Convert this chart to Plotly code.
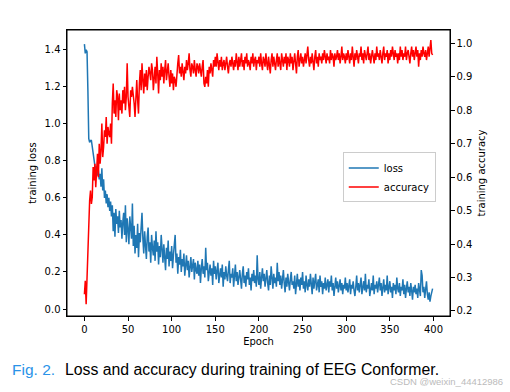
import plotly.graph_objects as go

epochs = list(range(400))

loss = [
    1.43, 1.38, 1.40, 1.39, 1.18, 0.92, 0.90, 0.91, 0.91, 0.88,
    0.85, 0.80, 0.79, 0.74, 0.77, 0.72, 0.75, 0.70, 0.73, 0.66,
    0.76, 0.64, 0.70, 0.60, 0.64, 0.57, 0.62, 0.55, 0.60, 0.53,
    0.58, 0.50, 0.56, 0.42, 0.52, 0.39, 0.54, 0.46, 0.50, 0.41,
    0.53, 0.44, 0.48, 0.38, 0.47, 0.52, 0.40, 0.56, 0.36, 0.49,
    0.43, 0.35, 0.50, 0.44, 0.38, 0.57, 0.34, 0.45, 0.30, 0.40,
    0.33, 0.46, 0.28, 0.41, 0.36, 0.44, 0.52, 0.38, 0.30, 0.42,
    0.35, 0.27, 0.39, 0.44, 0.31, 0.36, 0.25, 0.40, 0.33, 0.29,
    0.37, 0.26, 0.42, 0.31, 0.36, 0.24, 0.34, 0.28, 0.40, 0.30,
    0.25, 0.35, 0.29, 0.21, 0.33, 0.27, 0.37, 0.23, 0.31, 0.26,
    0.34, 0.22, 0.29, 0.36, 0.40, 0.25, 0.30, 0.19, 0.28, 0.24,
    0.32, 0.20, 0.27, 0.23, 0.30, 0.18, 0.25, 0.29, 0.21, 0.26,
    0.17, 0.24, 0.28, 0.20, 0.23, 0.27, 0.16, 0.25, 0.21, 0.19,
    0.26, 0.18, 0.24, 0.14, 0.22, 0.27, 0.19, 0.23, 0.17, 0.33,
    0.21, 0.25, 0.15, 0.20, 0.24, 0.18, 0.22, 0.13, 0.26, 0.19,
    0.23, 0.16, 0.21, 0.25, 0.14, 0.19, 0.22, 0.17, 0.24, 0.12,
    0.20, 0.16, 0.23, 0.18, 0.15, 0.21, 0.26, 0.14, 0.19, 0.17,
    0.22, 0.12, 0.18, 0.24, 0.15, 0.20, 0.13, 0.17, 0.21, 0.16,
    0.11, 0.19, 0.23, 0.14, 0.18, 0.12, 0.20, 0.16, 0.22, 0.13,
    0.17, 0.10, 0.19, 0.15, 0.21, 0.14, 0.18, 0.12, 0.29, 0.16,
    0.13, 0.20, 0.11, 0.17, 0.22, 0.15, 0.19, 0.12, 0.16, 0.21,
    0.14, 0.10, 0.18, 0.13, 0.23, 0.16, 0.11, 0.19, 0.14, 0.17,
    0.12, 0.25, 0.15, 0.20, 0.13, 0.18, 0.11, 0.16, 0.21, 0.14,
    0.09, 0.17, 0.12, 0.19, 0.14, 0.10, 0.16, 0.20, 0.13, 0.15,
    0.11, 0.18, 0.08, 0.14, 0.19, 0.12, 0.16, 0.10, 0.17, 0.13,
    0.20, 0.11, 0.15, 0.09, 0.18, 0.13, 0.10, 0.16, 0.12, 0.19,
    0.14, 0.08, 0.17, 0.11, 0.15, 0.19, 0.10, 0.13, 0.16, 0.09,
    0.18, 0.12, 0.15, 0.08, 0.14, 0.11, 0.17, 0.10, 0.13, 0.16,
    0.09, 0.15, 0.12, 0.18, 0.10, 0.14, 0.07, 0.13, 0.17, 0.11,
    0.15, 0.09, 0.12, 0.16, 0.10, 0.14, 0.08, 0.13, 0.11, 0.17,
    0.10, 0.14, 0.09, 0.12, 0.16, 0.08, 0.13, 0.11, 0.15, 0.10,
    0.07, 0.12, 0.18, 0.10, 0.14, 0.09, 0.13, 0.17, 0.08, 0.12,
    0.15, 0.10, 0.19, 0.09, 0.13, 0.11, 0.16, 0.07, 0.12, 0.14,
    0.10, 0.18, 0.08, 0.13, 0.11, 0.15, 0.09, 0.12, 0.17, 0.10,
    0.14, 0.07, 0.12, 0.16, 0.09, 0.13, 0.10, 0.18, 0.08, 0.11,
    0.15, 0.09, 0.12, 0.06, 0.14, 0.10, 0.13, 0.08, 0.17, 0.11,
    0.09, 0.14, 0.07, 0.12, 0.10, 0.16, 0.08, 0.13, 0.06, 0.11,
    0.15, 0.09, 0.12, 0.07, 0.14, 0.10, 0.05, 0.12, 0.09, 0.13,
    0.08, 0.11, 0.06, 0.14, 0.10, 0.07, 0.21, 0.18, 0.09, 0.12,
    0.06, 0.10, 0.15, 0.08, 0.05, 0.09, 0.04, 0.07, 0.10, 0.11,
]

accuracy = [
    0.25, 0.29, 0.22, 0.30, 0.40, 0.48, 0.53, 0.56, 0.52, 0.54,
    0.63, 0.59, 0.64, 0.57, 0.61, 0.67, 0.60, 0.70, 0.64, 0.68,
    0.76, 0.66, 0.69, 0.74, 0.72, 0.78, 0.70, 0.75, 0.73, 0.72,
    0.76, 0.70, 0.82, 0.88, 0.79, 0.83, 0.78, 0.86, 0.84, 0.77,
    0.85, 0.80, 0.83, 0.79, 0.86, 0.82, 0.87, 0.80, 0.84, 0.94,
    0.84, 0.81, 0.78, 0.86, 0.84, 0.87, 0.85, 0.82, 0.78, 0.84,
    0.89, 0.83, 0.79, 0.88, 0.92, 0.86, 0.94, 0.89, 0.85, 0.91,
    0.87, 0.92, 0.86, 0.90, 0.93, 0.91, 0.89, 0.94, 0.92, 0.86,
    0.90, 0.93, 0.88, 0.96, 0.91, 0.85, 0.92, 0.89, 0.94, 0.90,
    0.93, 0.88, 0.92, 0.95, 0.89, 0.91, 0.94, 0.90, 0.87, 0.92,
    0.88, 0.91, 0.86, 0.90, 0.89, 0.87, 0.92, 0.94, 0.965, 0.91,
    0.93, 0.90, 0.94, 0.92, 0.89, 0.93, 0.91, 0.95, 0.92, 0.94,
    0.97, 0.92, 0.90, 0.94, 0.93, 0.91, 0.95, 0.92, 0.90, 0.94,
    0.93, 0.91, 0.94, 0.92, 0.90, 0.93, 0.95, 0.88, 0.87, 0.90,
    0.88, 0.92, 0.87, 0.93, 0.91, 0.94, 0.92, 0.90, 0.95, 0.93,
    0.96, 0.93, 0.97, 0.94, 0.92, 0.95, 0.93, 0.96, 0.92, 0.94,
    0.95, 0.92, 0.94, 0.96, 0.93, 0.91, 0.94, 0.95, 0.93, 0.96,
    0.94, 0.92, 0.95, 0.93, 0.97, 0.94, 0.92, 0.96, 0.93, 0.95,
    0.97, 0.93, 0.95, 0.92, 0.96, 0.94, 0.97, 0.93, 0.95, 0.94,
    0.92, 0.96, 0.94, 0.97, 0.93, 0.95, 0.96, 0.92, 0.95, 0.94,
    0.96, 0.93, 0.97, 0.94, 0.92, 0.96, 0.95, 0.93, 0.97, 0.94,
    0.92, 0.96, 0.94, 0.91, 0.95, 0.97, 0.93, 0.96, 0.94, 0.92,
    0.95, 0.97, 0.93, 0.96, 0.94, 0.92, 0.97, 0.95, 0.93, 0.96,
    0.94, 0.97, 0.92, 0.96, 0.95, 0.93, 0.97, 0.94, 0.96, 0.92,
    0.95, 0.97, 0.94, 0.91, 0.96, 0.98, 0.93, 0.95, 0.97, 0.94,
    0.96, 0.93, 0.95, 0.97, 0.94, 0.96, 0.99, 0.95, 0.93, 0.96,
    0.94, 0.97, 0.95, 0.92, 0.96, 0.98, 0.94, 0.96, 0.93, 0.97,
    0.95, 0.96, 0.94, 0.97, 0.95, 0.98, 0.96, 0.94, 0.97, 0.95,
    0.96, 0.94, 0.98, 0.95, 0.97, 0.96, 0.93, 0.97, 0.95, 0.96,
    0.98, 0.95, 0.97, 0.94, 0.96, 0.99, 0.95, 0.97, 0.96, 0.94,
    0.97, 0.95, 0.98, 0.96, 0.94, 0.97, 0.95, 0.99, 0.96, 0.93,
    0.97, 0.95, 0.98, 0.96, 0.94, 0.97, 0.96, 0.99, 0.95, 0.97,
    0.94, 0.98, 0.96, 0.95, 0.97, 0.99, 0.95, 0.97, 0.94, 0.96,
    0.98, 0.96, 0.94, 0.97, 0.95, 0.99, 0.96, 0.97, 0.95, 0.98,
    0.96, 0.94, 0.97, 0.99, 0.95, 0.97, 0.96, 0.98, 0.94, 0.97,
    0.95, 0.98, 0.96, 0.99, 0.97, 0.95, 0.98, 0.96, 0.97, 0.94,
    0.97, 0.95, 0.99, 0.96, 0.98, 0.95, 0.97, 0.96, 0.99, 0.95,
    0.97, 0.98, 0.96, 0.94, 0.97, 0.99, 0.96, 0.98, 0.95, 0.97,
    0.99, 0.96, 0.98, 0.93, 0.97, 0.95, 0.98, 0.96, 0.99, 0.97,
    0.96, 0.98, 0.95, 0.97, 0.99, 0.96, 0.98, 1.01, 0.97, 0.965,
]

x_ticks = [0, 50, 100, 150, 200, 250, 300, 350, 400]
loss_ticks = [0.0, 0.2, 0.4, 0.6, 0.8, 1.0, 1.2, 1.4]
acc_ticks = [0.2, 0.3, 0.4, 0.5, 0.6, 0.7, 0.8, 0.9, 1.0]

FONT = "DejaVu Sans"

fig = go.Figure()
fig.add_trace(go.Scatter(x=epochs, y=loss, mode="lines", name="loss",
                         line=dict(color="#1f77b4", width=1.5)))
fig.add_trace(go.Scatter(x=epochs, y=accuracy, mode="lines", name="accuracy",
                         line=dict(color="#ff0000", width=1.5), yaxis="y2"))

axis_common = dict(showgrid=False, zeroline=False, showline=True, linecolor="black",
                   linewidth=1, ticks="outside", ticklen=3.5, tickwidth=0.8,
                   tickcolor="black", tickfont=dict(family=FONT, size=10, color="black"))

fig.update_layout(
    width=510, height=392,
    margin=dict(l=67, r=60, t=30, b=76),
    paper_bgcolor="white", plot_bgcolor="white",
    font=dict(family=FONT, size=10, color="black"),
    xaxis=dict(range=[-19.95, 418.95], tickvals=x_ticks, mirror=True,
               title=dict(text="Epoch", font=dict(family=FONT, size=10), standoff=4),
               **axis_common),
    yaxis=dict(range=[-0.0378, 1.5065], tickvals=loss_ticks, tickformat=".1f",
               title=dict(text="training loss", font=dict(family=FONT, size=10), standoff=6),
               **axis_common),
    yaxis2=dict(range=[0.185, 1.0398], tickvals=acc_ticks, tickformat=".1f",
                overlaying="y", side="right",
                title=dict(text="training accuracy", font=dict(family=FONT, size=10), standoff=6),
                **axis_common),
    legend=dict(x=0.72, y=0.572, xanchor="left", yanchor="top",
                bgcolor="rgba(255,255,255,0.8)", bordercolor="#cccccc", borderwidth=1,
                font=dict(family=FONT, size=10), itemwidth=30, tracegroupgap=0),
    showlegend=True,
)

fig.add_shape(type="rect", xref="paper", yref="paper", x0=0, x1=1, y0=0, y1=1,
              line=dict(color="black", width=1), fillcolor="rgba(0,0,0,0)", layer="above")

fig.add_annotation(text="Fig. 2.", xref="paper", yref="paper",
                   x=(10 - 67) / 383, y=(316 - 369) / 286, xanchor="left", yanchor="middle",
                   showarrow=False, font=dict(family="Liberation Sans", size=15.5, color="#2a93e8"))
fig.add_annotation(text="Loss and accuracy during training of EEG Conformer.",
                   xref="paper", yref="paper",
                   x=(63 - 67) / 383, y=(316 - 369) / 286, xanchor="left", yanchor="middle",
                   showarrow=False, font=dict(family="Liberation Sans", size=15.8, color="black"))
fig.add_annotation(text="CSDN @weixin_44412986", xref="paper", yref="paper",
                   x=(505 - 67) / 383, y=(316 - 381) / 286, xanchor="right", yanchor="middle",
                   showarrow=False, font=dict(family="Liberation Sans", size=9.5, color="#bbbbbb"))

fig.write_html("out.html", config={"displayModeBar": False},
               post_script="document.body.style.margin='0';document.body.style.padding='0';")
